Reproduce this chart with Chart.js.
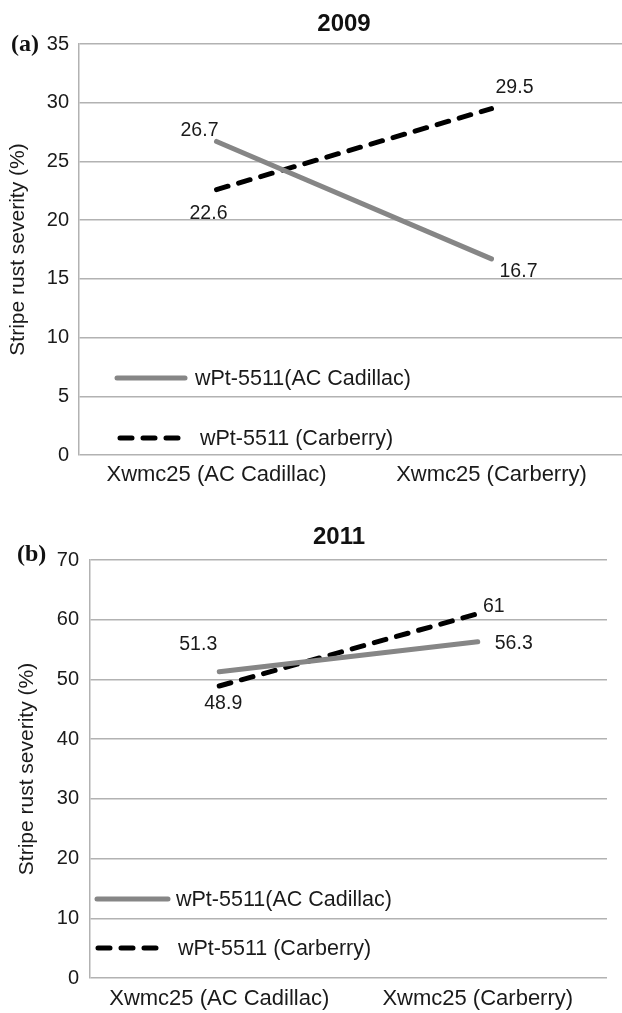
<!DOCTYPE html>
<html>
<head>
<meta charset="utf-8">
<script src="https://cdn.jsdelivr.net/npm/chart.js@4/dist/chart.umd.min.js"></script>
<style>
  html, body { margin: 0; padding: 0; background: #fff; overflow: hidden; }
  #wrap { position: relative; width: 622px; height: 1013px; overflow: hidden; }
  canvas { position: absolute; left: 0; }
  #c2009 { top: 0; }
  #c2011 { top: 500px; }
  .panel { position: absolute; font-family: "Liberation Serif", "DejaVu Serif", serif; font-weight: bold; font-size: 24px; color: #111; }
  .ttl { position: absolute; font-family: "Liberation Sans", Arial, sans-serif; font-weight: bold; font-size: 24px; color: #111; transform: translateX(-50%); white-space: nowrap; }
</style>
</head>
<body>
<div id="wrap">
  <canvas id="c2009" width="640" height="500"></canvas>
  <canvas id="c2011" width="622" height="513"></canvas>
  <div class="panel" style="left:11px; top:30px;">(a)</div>
  <div class="ttl" style="left:344px; top:9px;">2009</div>
  <div class="panel" style="left:17px; top:540px;">(b)</div>
  <div class="ttl" style="left:339px; top:522px;">2011</div>
</div>
<script>
// Marker categories on the x axis
const categories = ['Xwmc25 (AC Cadillac)', 'Xwmc25 (Carberry)'];
// Series names
const seriesNames = ['wPt-5511(AC Cadillac)', 'wPt-5511 (Carberry)'];
const yTitle = 'Stripe rust severity (%)';

// 2009 stripe rust severity (%)
const cadillac2009 = [26.7, 16.7];
const carberry2009 = [22.6, 29.5];
// 2011 stripe rust severity (%)
const cadillac2011 = [51.3, 56.3];
const carberry2011 = [48.9, 61];

const FONT = '"Liberation Sans", Arial, sans-serif';
const GRID = '#b2b2b2';

// Writes each point's value next to it
const valueLabels = {
  id: 'valueLabels',
  afterDatasetsDraw(chart, args, opts) {
    const ctx = chart.ctx;
    ctx.save();
    ctx.font = '19.5px ' + FONT;
    ctx.fillStyle = '#1a1a1a';
    ctx.textAlign = 'center';
    ctx.textBaseline = 'middle';
    chart.data.datasets.forEach((ds, di) => {
      const meta = chart.getDatasetMeta(di);
      meta.data.forEach((pt, i) => {
        const off = opts.offsets[di][i];
        ctx.fillText(String(ds.data[i]), pt.x + off[0], pt.y + off[1]);
      });
    });
    ctx.restore();
  }
};

// Legend drawn inside the plot area, one entry per dataset
const innerLegend = {
  id: 'innerLegend',
  afterDraw(chart, args, opts) {
    const ctx = chart.ctx;
    const a = chart.chartArea;
    ctx.save();
    chart.data.datasets.forEach((ds, di) => {
      const e = opts.entries[di];
      const y = a.top + e.y;
      ctx.beginPath();
      ctx.strokeStyle = ds.borderColor;
      ctx.lineWidth = ds.borderWidth;
      ctx.lineCap = 'round';
      ctx.setLineDash(ds.borderDash || []);
      ctx.moveTo(a.left + e.x, y);
      ctx.lineTo(a.left + e.x + e.len, y);
      ctx.stroke();
      ctx.setLineDash([]);
      ctx.font = '21.5px ' + FONT;
      ctx.fillStyle = '#1a1a1a';
      ctx.textAlign = 'left';
      ctx.textBaseline = 'middle';
      ctx.fillText(ds.label, a.left + e.tx, y + 1);
    });
    ctx.restore();
  }
};

function makeChart(id, cad, carb, cfg) {
  return new Chart(document.getElementById(id), {
    type: 'line',
    data: {
      labels: categories,
      datasets: [
        { label: seriesNames[0], data: cad, borderColor: '#868686', borderWidth: 5,
          borderCapStyle: 'round', pointRadius: 0, tension: 0 },
        { label: seriesNames[1], data: carb, borderColor: '#000', borderWidth: 5,
          borderDash: [12, 11], borderCapStyle: 'round', pointRadius: 0, tension: 0 }
      ]
    },
    options: {
      responsive: false,
      animation: false,
      devicePixelRatio: 1,
      layout: { padding: { top: cfg.padTop, right: cfg.padRight, left: 0, bottom: 0 } },
      plugins: {
        legend: { display: false },
        tooltip: { enabled: false },
        valueLabels: { offsets: cfg.labelOffsets },
        innerLegend: { entries: cfg.legend }
      },
      scales: {
        x: {
          offset: true,
          grid: { display: false, drawTicks: false },
          border: { display: false },
          ticks: { color: '#1a1a1a', font: { family: FONT, size: 22 }, padding: cfg.xPad, maxRotation: 0 },
          afterFit(s) { s.height = cfg.xHeight; }
        },
        y: {
          min: 0, max: cfg.max,
          ticks: { stepSize: cfg.step, color: '#1a1a1a', font: { family: FONT, size: 20 }, padding: cfg.yPad },
          grid: { color: GRID, lineWidth: 1.5, drawTicks: false },
          border: { display: true, color: GRID, width: 1.5 },
          title: { display: true, text: yTitle, color: '#1a1a1a',
                   font: { family: FONT, size: 21 }, padding: { top: cfg.titlePad, bottom: 0 } },
          afterFit(s) { s.width = cfg.yWidth; }
        }
      }
    },
    plugins: [valueLabels, innerLegend]
  });
}

makeChart('c2009', cadillac2009, carberry2009, {
  padTop: 44, padRight: 11, xHeight: 45, yWidth: 79, xPad: 7, yPad: 10, titlePad: 6,
  max: 35, step: 5,
  labelOffsets: [[[-17, -11], [27, 13]], [[-8, 24], [23, -21]]],
  legend: [{ x: 38, len: 68, tx: 116, y: 334 }, { x: 41, len: 58, tx: 121, y: 394 }]
});

makeChart('c2011', cadillac2011, carberry2011, {
  padTop: 60, padRight: 15, xHeight: 35, yWidth: 90, xPad: 8, yPad: 11, titlePad: 15,
  max: 70, step: 10,
  labelOffsets: [[[-21, -27], [36, 2]], [[4, 18], [16, -7]]],
  legend: [{ x: 7, len: 71, tx: 86, y: 339 }, { x: 8, len: 58, tx: 88, y: 388 }]
});
</script>
</body>
</html>
